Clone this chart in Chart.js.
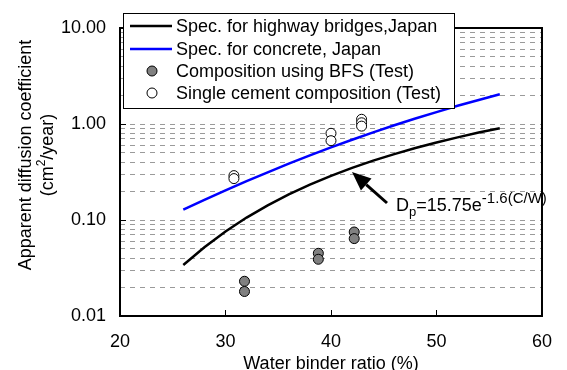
<!DOCTYPE html>
<html>
<head>
<meta charset="utf-8">
<script src="https://cdn.jsdelivr.net/npm/chart.js@4/dist/chart.umd.min.js"></script>
<style>
  html, body { margin: 0; padding: 0; background: #fff; }
  #wrap { width: 567px; height: 370px; position: relative; }
</style>
</head>
<body>
<div id="wrap"><canvas id="c" width="567" height="370"></canvas></div>
<script>
// ---- data ----
const specX = [26, 28, 30, 32, 34, 36, 38, 40, 42, 44, 46, 48, 50, 52, 54, 56];
const highwaySpec = [0.034, 0.052, 0.076, 0.106, 0.142, 0.185, 0.234, 0.288, 0.349, 0.415, 0.486, 0.562, 0.642, 0.726, 0.814, 0.904];
const concreteSpec = [0.128, 0.162, 0.204, 0.254, 0.314, 0.386, 0.471, 0.570, 0.685, 0.818, 0.970, 1.14, 1.33, 1.55, 1.78, 2.04];
const bfsX = [31.8, 31.8, 38.8, 38.8, 42.2, 42.2];
const bfsY = [0.023, 0.018, 0.045, 0.039, 0.075, 0.064];
const opcX = [30.8, 30.8, 40.0, 40.0, 42.9, 42.9, 42.9];
const opcY = [0.29, 0.27, 0.80, 0.67, 1.12, 1.03, 0.95];
const seriesNames = ['Spec. for highway bridges,Japan', 'Spec. for concrete, Japan', 'Composition using BFS (Test)', 'Single cement composition (Test)'];
const xTicks = [20, 30, 40, 50, 60];
const yMajorTicks = [0.01, 0.1, 1, 10];
const yTickLabels = ['0.01', '0.10', '1.00', '10.00'];
const xTitle = 'Water binder ratio (%)';
const yTitle = ['Apparent diffusion coefficient', '(cm', '2', '/year)'];
const formula = ['D', 'p', '=15.75e', '-1.6(C/W)'];

const FONT = '"Liberation Sans", Arial, sans-serif';
const pts = (xs, ys) => xs.map((x, i) => ({ x: x, y: ys[i] }));

const yGridValues = [];
for (let e = -2; e <= 0; e++) {
  for (let m = 1; m <= 9; m++) yGridValues.push(Number((m * Math.pow(10, e)).toPrecision(3)));
}
yGridValues.push(10);

const decor = {
  id: 'decor',
  afterDraw(chart) {
    const ctx = chart.ctx;
    const a = chart.chartArea;
    const xs = chart.scales.x, ys = chart.scales.y;
    ctx.save();
    // inward tick marks
    ctx.strokeStyle = '#000';
    ctx.lineWidth = 1;
    xTicks.slice(1, -1).forEach(v => {
      const px = Math.round(xs.getPixelForValue(v)) + 0.5;
      ctx.beginPath(); ctx.moveTo(px, a.bottom); ctx.lineTo(px, a.bottom - 6); ctx.stroke();
    });
    yMajorTicks.slice(1, -1).forEach(v => {
      const py = Math.round(ys.getPixelForValue(v)) + 0.5;
      ctx.beginPath(); ctx.moveTo(a.left, py); ctx.lineTo(a.left + 6, py); ctx.stroke();
    });
    // plot frame
    ctx.lineWidth = 2;
    ctx.strokeRect(a.left, a.top, a.right - a.left, a.bottom - a.top);

    // legend box
    const lx = 123.5, ly = 13.5, lw = 331, lh = 95;
    ctx.fillStyle = '#fff';
    ctx.fillRect(lx, ly, lw, lh);
    ctx.lineWidth = 1;
    ctx.strokeStyle = '#000';
    ctx.strokeRect(lx, ly, lw, lh);
    const rows = [26, 49, 71, 93];
    ctx.font = '18px ' + FONT;
    ctx.textBaseline = 'middle';
    ctx.textAlign = 'left';
    chart.data.datasets.forEach((ds, i) => {
      const y = rows[i];
      if (ds.type === 'line' || ds.showLine) {
        ctx.strokeStyle = ds.borderColor; ctx.lineWidth = 2.5;
        ctx.beginPath(); ctx.moveTo(130, y); ctx.lineTo(172, y); ctx.stroke();
      } else {
        ctx.beginPath(); ctx.arc(152, y, 5, 0, Math.PI * 2);
        ctx.fillStyle = ds.backgroundColor; ctx.fill();
        ctx.strokeStyle = '#000'; ctx.lineWidth = 1; ctx.stroke();
      }
      ctx.fillStyle = '#000';
      ctx.fillText(ds.label, 176, y + 1);
    });

    // arrow annotation
    const tipX = 352, tipY = 172, tailX = 387, tailY = 203;
    const ang = Math.atan2(tipY - tailY, tipX - tailX);
    const hl = 19, hw = 8;
    const bx = tipX - hl * Math.cos(ang), by = tipY - hl * Math.sin(ang);
    ctx.strokeStyle = '#000'; ctx.lineWidth = 3;
    ctx.beginPath(); ctx.moveTo(tailX, tailY); ctx.lineTo(bx, by); ctx.stroke();
    ctx.fillStyle = '#000';
    ctx.beginPath();
    ctx.moveTo(tipX, tipY);
    ctx.lineTo(bx + hw * Math.sin(ang), by - hw * Math.cos(ang));
    ctx.lineTo(bx - hw * Math.sin(ang), by + hw * Math.cos(ang));
    ctx.closePath(); ctx.fill();

    // formula text
    ctx.textBaseline = 'alphabetic';
    let fx = 396;
    const base = 211;
    ctx.font = '18px ' + FONT; ctx.fillText(formula[0], fx, base); fx += ctx.measureText(formula[0]).width;
    ctx.font = '13px ' + FONT; ctx.fillText(formula[1], fx, base + 5); fx += ctx.measureText(formula[1]).width;
    ctx.font = '18px ' + FONT; ctx.fillText(formula[2], fx, base); fx += ctx.measureText(formula[2]).width;
    ctx.font = '15px ' + FONT; ctx.fillText(formula[3], fx, base - 8);

    // y axis title (two lines, rotated)
    ctx.save();
    ctx.translate(26, 155);
    ctx.rotate(-Math.PI / 2);
    ctx.font = '18px ' + FONT;
    ctx.textAlign = 'center'; ctx.textBaseline = 'middle';
    ctx.fillText(yTitle[0], 0, 0);
    ctx.textAlign = 'left';
    const w1 = ctx.measureText(yTitle[1]).width;
    const w3 = ctx.measureText(yTitle[3]).width;
    ctx.font = '12px ' + FONT;
    const w2 = ctx.measureText(yTitle[2]).width;
    let sx = -(w1 + w2 + w3) / 2;
    ctx.font = '18px ' + FONT; ctx.fillText(yTitle[1], sx, 22); sx += w1;
    ctx.font = '12px ' + FONT; ctx.fillText(yTitle[2], sx, 16); sx += w2;
    ctx.font = '18px ' + FONT; ctx.fillText(yTitle[3], sx, 22);
    ctx.restore();

    ctx.restore();
  }
};

new Chart(document.getElementById('c'), {
  type: 'scatter',
  data: {
    datasets: [
      { type: 'line', label: seriesNames[0], data: pts(specX, highwaySpec), borderColor: '#000000', borderWidth: 2.5, pointRadius: 0, fill: false, tension: 0, order: 3 },
      { type: 'line', label: seriesNames[1], data: pts(specX, concreteSpec), borderColor: '#0000ff', borderWidth: 2.5, pointRadius: 0, fill: false, tension: 0, order: 2 },
      { label: seriesNames[2], data: pts(bfsX, bfsY), backgroundColor: '#808080', borderColor: '#000', borderWidth: 1, pointRadius: 5, order: 1 },
      { label: seriesNames[3], data: pts(opcX, opcY), backgroundColor: '#ffffff', borderColor: '#000', borderWidth: 1, pointRadius: 5, order: 0 }
    ]
  },
  options: {
    responsive: false,
    animation: false,
    devicePixelRatio: 1,
    layout: { padding: { left: 0, right: 10, top: 28, bottom: 0 } },
    plugins: { legend: { display: false }, tooltip: { enabled: false } },
    scales: {
      x: {
        type: 'linear', min: 20, max: 60,
        afterBuildTicks: s => { s.ticks = xTicks.map(v => ({ value: v })); },
        afterFit: s => { s.height = 54; },
        grid: { display: false, drawTicks: false },
        border: { display: false },
        ticks: { color: '#000', font: { size: 18, family: FONT }, padding: 15, maxRotation: 0, autoSkip: false },
        title: { display: true, text: xTitle, color: '#000', font: { size: 18, family: FONT, lineHeight: 1.0 }, padding: { top: 0, bottom: -3 } }
      },
      y: {
        type: 'logarithmic', min: 0.01, max: 10,
        afterBuildTicks: s => { s.ticks = yGridValues.map(v => ({ value: v })); },
        afterFit: s => { s.width = 120; },
        grid: {
          drawTicks: false,
          color: c => (c.tick && (c.tick.value === 0.01 || c.tick.value === 10)) ? 'rgba(0,0,0,0)' : '#9a9a9a',
          lineWidth: 1
        },
        border: { display: false, dash: [5, 5] },
        ticks: {
          color: '#000', font: { size: 18, family: FONT }, padding: 14, autoSkip: false,
          callback: v => { const i = yMajorTicks.findIndex(m => Math.abs(m - v) < 1e-9); return i >= 0 ? yTickLabels[i] : ''; }
        }
      }
    }
  },
  plugins: [decor]
});
</script>
</body>
</html>
